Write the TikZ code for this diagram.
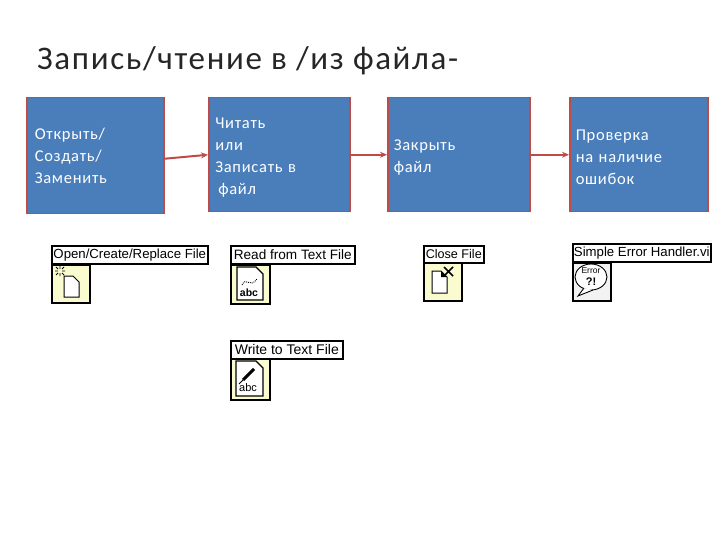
\documentclass[tikz,border=0pt]{standalone}
\usepackage{fontspec}
\setmainfont{Carlito}
\newfontfamily\titlefont[LetterSpace=5]{Carlito}
\newfontfamily\boxfont[LetterSpace=4.5]{Carlito}
\newfontfamily\vifont{Liberation Sans}
\usetikzlibrary{positioning,arrows.meta}
\definecolor{stepblue}{HTML}{4A7EBB}
\definecolor{stepred}{HTML}{BE4B48}
\definecolor{iconyellow}{HTML}{FBFBD0}
\newcommand{\steptop}{\rule{0pt}{15.5pt}}
\begin{document}
\begin{tikzpicture}
            [x=1pt, y=-1pt,
             stepbox/.style={draw=stepred, line width=1.5pt, fill=stepblue, text=white, align=left, anchor=north west,
                inner xsep=0pt, inner ysep=0pt, font=\boxfont\fontsize{16.5}{22}\selectfont},
             viname/.style={draw=black, line width=1.6pt, fill=white, inner sep=0pt, anchor=north west,
                font=\vifont\fontsize{13.2}{14}\selectfont},
             viicon/.style={draw=black, line width=1.5pt, fill=iconyellow, inner sep=0pt, anchor=north west},
             stepline/.style={draw=stepred, line width=1.6pt, -{Stealth[length=7pt,width=6pt]}},
             glyph/.style={draw=black, line width=1pt, fill=white},
             glyphtext/.style={font=\vifont\fontsize{10}{10}\selectfont, inner sep=0pt}]
            \useasboundingbox (0,0) rectangle (720,540);
            \node[anchor=base west, font=\titlefont\fontsize{33}{36}\selectfont, inner sep=0pt, text=black!85] (title) at (37,70) {Запись/чтение в /из файла-};

            % blue steps
            \node[stepbox, minimum width=137pt, minimum height=116pt, text width=129pt] (open) at (26,97) {\hspace*{4pt}Открыть/\\\hspace*{4pt}Создать/\\\hspace*{4pt}Заменить};
            \node[stepbox, minimum width=141pt, minimum height=114pt, text width=134pt] (rw) at (208,97) {\steptop\hspace*{3pt}Читать\\\hspace*{3pt}или\\\hspace*{3pt}Записать в\\\hspace*{6pt}файл};
            \node[stepbox, minimum width=142pt, minimum height=114pt, text width=136pt] (close) at (387,97) {\steptop\hspace*{3pt}Закрыть\\\hspace*{3pt}файл};
            \node[stepbox, minimum width=138pt, minimum height=114pt, text width=132pt] (check) at (569,97) {\steptop\hspace*{3pt}Проверка\\\hspace*{3pt}на наличие\\\hspace*{3pt}ошибок};

            \draw[stepline, line width=2pt] ([yshift=-3pt]open.east) -- (rw.west);
            \draw[stepline] (rw.east) -- (close.west);
            \draw[stepline] (close.east) -- (check.west);

            % labview icons
            \node[viname, minimum width=156pt, minimum height=18pt] (openname) at (51,245) {Open/Create/Replace File};
            \node[viicon, minimum width=38pt, minimum height=38pt] (openicon) at (51,264) {};
            \begin{scope}[shift={(openicon.north west)}]
               \draw[glyph] (13,12) -- ++(9,0) -- ++(6,6) -- ++(0,15) -- ++(-15,0) -- cycle;
               \draw[line width=.8pt] (4,7) -- ++(3,0) (11,7) -- ++(3,0) (9,2) -- ++(0,3) (9,9) -- ++(0,3) (5,3) -- ++(2,2) (13,3) -- ++(-2,2) (5,11) -- ++(2,-2) (13,11) -- ++(-2,-2);
            \end{scope}

            \node[viname, minimum width=124pt, minimum height=18pt, font=\vifont\fontsize{13.6}{14}\selectfont] (readname) at (230,245) {Read from Text File};
            \node[viicon, minimum width=39pt, minimum height=39pt] (readicon) at (230,264) {};
            \begin{scope}[shift={(readicon.north west)}]
               \draw[glyph, line width=1.3pt] (7,3) -- ++(19,0) -- ++(7,7) -- ++(0,26) -- ++(-26,0) -- cycle;
               \node[glyphtext, font=\vifont\bfseries\fontsize{10.5}{10}\selectfont] (readabc) at (19,29) {abc};
               \draw[line width=.9pt, densely dotted] (12,21) .. controls (16,12) and (20,25) .. (27,15);
            \end{scope}

            \node[viname, minimum width=112pt, minimum height=18pt, font=\vifont\fontsize{14}{14}\selectfont] (writename) at (230,340) {Write to Text File};
            \node[viicon, minimum width=39pt, minimum height=41pt] (writeicon) at (230,358) {};
            \begin{scope}[shift={(writeicon.north west)}]
               \draw[glyph, line width=1.3pt] (6,3) -- ++(20,0) -- ++(7,7) -- ++(0,28) -- ++(-27,0) -- cycle;
               \node[glyphtext, font=\vifont\fontsize{11}{10}\selectfont] (writeabc) at (18,30) {abc};
               \draw[line width=3pt] (13,22) -- (24,11);
               \draw[line width=.8pt] (13,22) -- (9,26);
            \end{scope}

            \node[viname, minimum width=60pt, minimum height=17pt, font=\vifont\fontsize{12.6}{14}\selectfont] (closename) at (423,245) {Close File};
            \node[viicon, minimum width=38pt, minimum height=38pt] (closeicon) at (423,262) {};
            \begin{scope}[shift={(closeicon.north west)}]
               \draw[glyph] (9,9) -- ++(9,0) -- ++(6,6) -- ++(0,16) -- ++(-15,0) -- cycle;
               \fill (18,9) -- (24,15) -- (18,15) -- cycle;
               \draw[line width=1.6pt] (21,14) -- ++(9,-9) (21,5) -- ++(9,9);
            \end{scope}

            \node[viname, minimum width=138pt, minimum height=18pt] (errorname) at (572,243) {Simple Error Handler.vi};
            \node[viicon, fill=white!95!black, minimum width=38pt, minimum height=38pt] (erroricon) at (572,262) {};
            \begin{scope}[shift={(erroricon.north west)}]
               \draw[line width=.9pt, fill=white] (19,15) ellipse [x radius=16, y radius=13];
               \draw[line width=.9pt, fill=white] (12,26) -- (6,34) -- (21,28);
               \node[glyphtext, font=\vifont\fontsize{8.5}{8}\selectfont] (errortext) at (19,9) {Error};
               \node[glyphtext, font=\vifont\bfseries\fontsize{11}{11}\selectfont] (errormark) at (19,20) {?!};
            \end{scope}
\end{tikzpicture}
\end{document}
